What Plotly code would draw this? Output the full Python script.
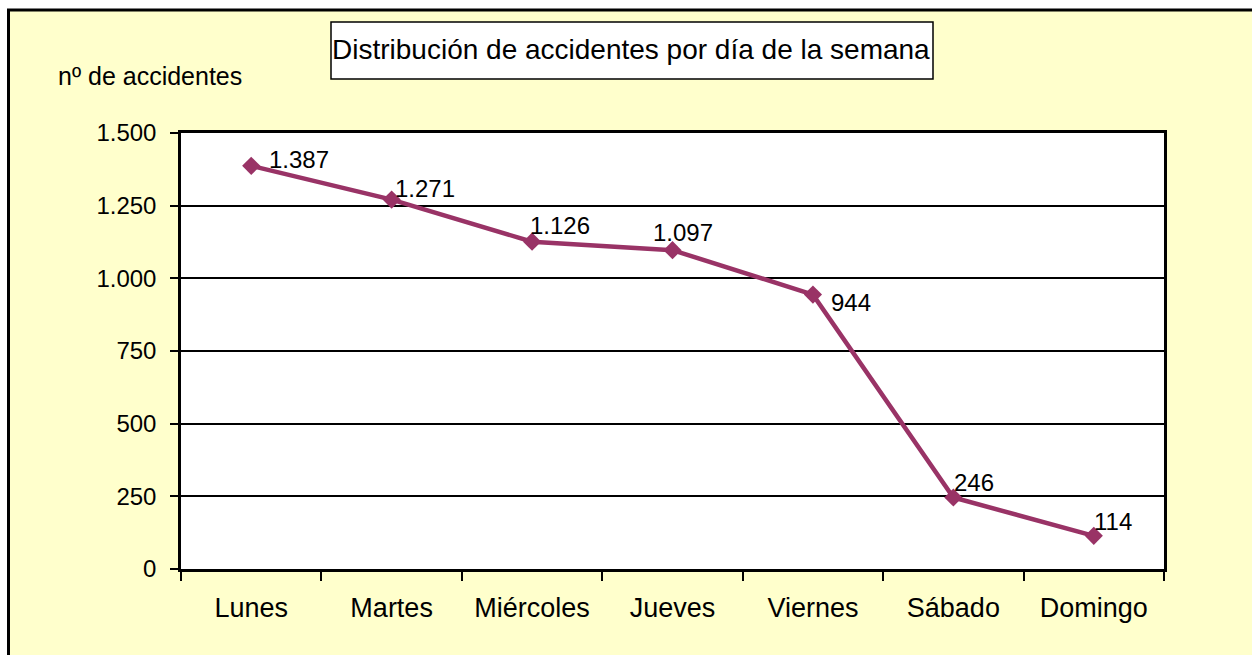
import plotly.graph_objects as go

# ---- data ----
days = ["Lunes", "Martes", "Miércoles", "Jueves", "Viernes", "Sábado", "Domingo"]
accidents = [1387, 1271, 1126, 1097, 944, 246, 114]
y_ticks = [0, 250, 500, 750, 1000, 1250, 1500]

# label offsets (style, in px)
label_dx = [48, 33, 28, 10, 38, 21, 19]
label_dy = [-6, -11, -16, -18, 8, -15, -14]

W, H = 1252, 655
L, R, T, B = 181, 1164, 133, 569
pw, ph = R - L, B - T


def px(x):
    return (x - L) / pw


def py(y):
    return (B - y) / ph


def fmt(v):
    return f"{v:,}".replace(",", ".")


FONT = "Liberation Sans, Arial, Helvetica, sans-serif"
COLOR = "#993366"

fig = go.Figure()
fig.add_trace(go.Scatter(
    x=days, y=accidents, mode="lines+markers",
    line=dict(color=COLOR, width=4.5),
    marker=dict(symbol="diamond", size=14, color=COLOR),
    hoverinfo="x+y", showlegend=False,
))

annotations = []
for d, v, dx, dy in zip(days, accidents, label_dx, label_dy):
    annotations.append(dict(
        x=d, y=v, xref="x", yref="y", text=fmt(v), showarrow=False,
        xanchor="center", yanchor="middle", xshift=dx, yshift=-dy,
        font=dict(family=FONT, size=24, color="black"),
    ))

# title text
annotations.append(dict(
    x=px(631), y=py(50), xref="paper", yref="paper",
    text="Distribución de accidentes por día de la semana", showarrow=False,
    xanchor="center", yanchor="middle",
    font=dict(family=FONT, size=28, color="black"),
))
# y axis label
annotations.append(dict(
    x=px(56), y=py(76), xref="paper", yref="paper",
    text="nº de accidentes", showarrow=False,
    xanchor="left", yanchor="middle",
    font=dict(family=FONT, size=25, color="black"),
))

shapes = [
    # white strips outside the outer frame
    dict(type="rect", xref="paper", yref="paper", x0=px(-20), x1=px(1300),
         y0=py(10), y1=py(-20), fillcolor="white", line=dict(width=0), layer="above"),
    dict(type="rect", xref="paper", yref="paper", x0=px(-20), x1=px(7),
         y0=py(700), y1=py(-20), fillcolor="white", line=dict(width=0), layer="above"),
    # outer frame lines
    dict(type="line", xref="paper", yref="paper", x0=px(7), x1=px(1300),
         y0=py(10), y1=py(10), line=dict(color="black", width=3), layer="above"),
    dict(type="line", xref="paper", yref="paper", x0=px(8.5), x1=px(8.5),
         y0=py(10), y1=py(700), line=dict(color="black", width=3), layer="above"),
    # title box
    dict(type="rect", xref="paper", yref="paper", x0=px(331), x1=px(933),
         y0=py(79), y1=py(22), fillcolor="white",
         line=dict(color="black", width=1.5), layer="above"),
]

fig.update_layout(
    width=W, height=H,
    margin=dict(l=L, r=W - R, t=T, b=H - B, pad=0),
    paper_bgcolor="#FFFFCC", plot_bgcolor="white",
    font=dict(family=FONT, size=24, color="black"),
    annotations=annotations, shapes=shapes,
    xaxis=dict(
        type="category", range=[-0.5, 6.5], tickson="boundaries",
        ticks="outside", ticklen=9, tickwidth=2, tickcolor="black",
        showline=True, linecolor="black", linewidth=2.5, mirror=True,
        showgrid=False, tickfont=dict(family=FONT, size=27, color="black"),
        ticklabelstandoff=13,
    ),
    yaxis=dict(
        range=[0, 1500], tickvals=y_ticks, ticktext=[fmt(t) for t in y_ticks],
        ticks="outside", ticklen=8, tickwidth=2, tickcolor="black",
        showline=True, linecolor="black", linewidth=2.5, mirror=True,
        showgrid=True, gridcolor="black", gridwidth=2, zeroline=False,
        tickfont=dict(family=FONT, size=24, color="black"),
        ticklabelstandoff=9,
    ),
)

fig.write_html(
    "out.html",
    config={"displayModeBar": False},
    post_script="document.body.style.margin='0';document.documentElement.style.overflow='hidden';",
)
